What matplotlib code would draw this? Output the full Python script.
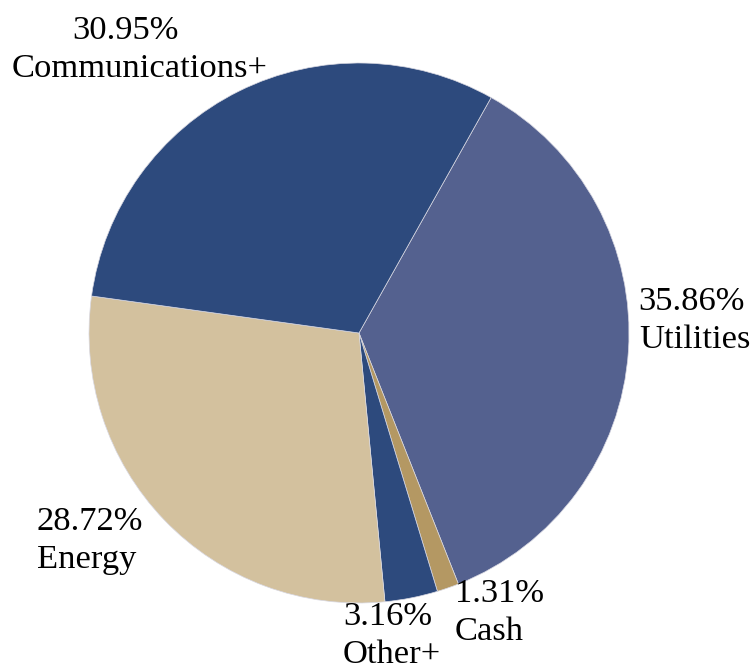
import matplotlib
matplotlib.use("Agg")
import matplotlib.pyplot as plt

categories = ["Utilities", "Cash", "Other+", "Energy", "Communications+"]
values = [35.86, 1.31, 3.16, 28.72, 30.95]
colors = ["#54618f", "#b49863", "#2d4a7d", "#d3c19e", "#2d4a7d"]

W, H = 756, 667
fig = plt.figure(figsize=(W / 100, H / 100), dpi=100)
ax = fig.add_axes([0, 0, 1, 1])

cx, cy, r = 359, H - 333, 270
ax.pie(values, colors=colors, startangle=60.7, counterclock=False,
       center=(cx, cy), radius=r,
       wedgeprops=dict(edgecolor="#d8d8e2", linewidth=0.5))
ax.set_xlim(0, W)
ax.set_ylim(0, H)
ax.set_aspect("equal")
ax.axis("off")

font = dict(family=["Liberation Serif", "DejaVu Serif"], fontsize=24.8, color="black")
# label anchors: (x of value line, x of name line, first-line baseline y in px, alignment)
layout = {
    "Utilities": (638, 639, 310, "left"),
    "Cash": (455, 455, 602, "left"),
    "Other+": (343, 343, 625, "left"),
    "Energy": (37, 37, 530, "left"),
    "Communications+": (125, 140, 39, "center"),
}
for cat, val in zip(categories, values):
    x1, x2, y, ha = layout[cat]
    ax.text(x1, H - y, f"{val:.2f}%", ha=ha, va="baseline", **font)
    ax.text(x2, H - y - 38, cat, ha=ha, va="baseline", **font)

fig.savefig("out.png", dpi=100)
